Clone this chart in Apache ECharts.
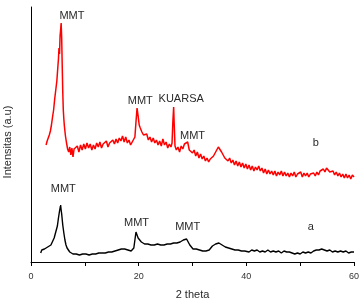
<!DOCTYPE html>
<html>
<head>
<meta charset="utf-8">
<script src="https://cdn.jsdelivr.net/npm/echarts@6/dist/echarts.min.js"></script>
<style>
  html, body { margin: 0; padding: 0; background: #fff; }
  #chart { width: 361px; height: 298px; }
</style>
</head>
<body>
<div id="chart"></div>
<script>
// sample b (red) - 2 theta and relative intensity
const thetaB = [2.8, 3.0, 3.2, 3.4, 3.6, 3.8, 4.0, 4.2, 4.4, 4.6, 4.8, 5.0, 5.1, 5.2, 5.3, 5.4, 5.5, 5.6, 5.7, 5.8, 5.9, 6.0, 6.1, 6.2, 6.4, 6.6, 6.8, 7.0, 7.2, 7.4, 7.6, 7.8, 8.0, 8.3, 8.6, 8.9, 9.2, 9.5, 9.8, 10.1, 10.4, 10.7, 11.0, 11.3, 11.6, 11.9, 12.2, 12.5, 12.8, 13.1, 13.4, 13.7, 14.0, 14.3, 14.6, 14.9, 15.2, 15.5, 15.8, 16.1, 16.4, 16.7, 17.0, 17.3, 17.6, 17.9, 18.2, 18.5, 18.8, 19.1, 19.3, 19.5, 19.7, 19.9, 20.1, 20.3, 20.6, 20.9, 21.2, 21.5, 21.8, 22.1, 22.4, 22.7, 23.0, 23.3, 23.6, 23.9, 24.2, 24.5, 24.8, 25.1, 25.4, 25.7, 26.0, 26.2, 26.35, 26.5, 26.6, 26.75, 27.0, 27.3, 27.6, 27.9, 28.2, 28.5, 28.8, 29.1, 29.4, 29.7, 30.0, 30.3, 30.6, 30.9, 31.2, 31.5, 31.8, 32.1, 32.4, 32.7, 33.0, 33.3, 33.6, 33.9, 34.2, 34.5, 34.8, 35.1, 35.4, 35.7, 36.0, 36.3, 36.6, 36.9, 37.2, 37.5, 37.8, 38.1, 38.4, 38.7, 39.0, 39.3, 39.6, 39.9, 40.2, 40.5, 40.8, 41.1, 41.4, 41.7, 42.0, 42.3, 42.6, 42.9, 43.2, 43.5, 43.8, 44.1, 44.4, 44.7, 45.0, 45.3, 45.6, 45.9, 46.2, 46.5, 46.8, 47.1, 47.4, 47.7, 48.0, 48.3, 48.6, 48.9, 49.2, 49.5, 49.8, 50.1, 50.4, 50.7, 51.0, 51.3, 51.6, 51.9, 52.2, 52.5, 52.8, 53.1, 53.4, 53.7, 54.0, 54.3, 54.6, 54.9, 55.2, 55.5, 55.8, 56.1, 56.4, 56.7, 57.0, 57.3, 57.6, 57.9, 58.2, 58.5, 58.8, 59.1, 59.4, 59.7, 60.0];
const intensB = [117, 121, 119, 127, 131, 137, 145, 152, 163, 172, 181, 196, 203, 214, 208, 226, 232, 239, 224, 196, 170, 152, 143, 136, 126, 119, 113, 110, 115, 107, 114, 105, 113, 111, 116, 110, 117, 112, 118, 113, 119, 114, 118, 112, 117, 113, 119, 115, 120, 114, 118, 116, 121, 115, 119, 117, 122, 118, 123, 119, 124, 121, 126, 120, 125, 119, 122, 117, 120, 118, 125, 140, 154, 146, 137, 134, 130, 127, 125, 128, 122, 125, 120, 124, 119, 122, 117, 121, 116, 123, 117, 120, 114, 118, 115, 119, 140, 155, 138, 116, 112, 115, 110, 116, 113, 118, 117, 120, 112, 114, 109, 112, 106, 110, 104, 108, 103, 106, 101, 104, 100, 103, 102, 106, 108, 112, 115, 113, 110, 107, 104, 106, 101, 104, 99, 102, 97, 101, 96, 100, 95, 99, 94, 98, 93, 97, 92, 96, 91, 95, 92, 96, 91, 94, 89, 93, 88, 92, 88, 91, 87, 91, 86, 90, 87, 91, 86, 90, 86, 89, 85, 89, 86, 90, 85, 88, 86, 90, 85, 89, 86, 89, 85, 88, 86, 89, 86, 90, 87, 91, 89, 93, 90, 94, 92, 90, 88, 91, 87, 90, 86, 89, 85, 88, 84, 88, 84, 87, 83, 87, 85];

// sample a (black)
const thetaA = [1.8, 2.0, 2.2, 2.5, 2.8, 3.1, 3.4, 3.7, 4.0, 4.3, 4.6, 4.9, 5.1, 5.3, 5.5, 5.6, 5.7, 5.9, 6.1, 6.3, 6.5, 6.7, 6.9, 7.2, 7.5, 7.8, 8.1, 8.4, 8.7, 9.0, 9.3, 9.6, 9.9, 10.2, 10.5, 10.8, 11.1, 11.4, 11.7, 12.0, 12.3, 12.6, 12.9, 13.2, 13.5, 13.8, 14.1, 14.4, 14.7, 15.0, 15.3, 15.6, 15.9, 16.2, 16.5, 16.8, 17.1, 17.4, 17.7, 18.0, 18.3, 18.6, 18.9, 19.1, 19.3, 19.5, 19.7, 19.9, 20.2, 20.5, 20.8, 21.1, 21.4, 21.7, 22.0, 22.3, 22.6, 22.9, 23.2, 23.5, 23.8, 24.1, 24.4, 24.7, 25.0, 25.3, 25.6, 25.9, 26.2, 26.5, 26.8, 27.1, 27.4, 27.7, 28.0, 28.3, 28.6, 28.9, 29.2, 29.5, 29.8, 30.1, 30.4, 30.7, 31.0, 31.3, 31.6, 31.9, 32.2, 32.5, 32.8, 33.1, 33.4, 33.7, 34.0, 34.3, 34.6, 34.9, 35.2, 35.5, 35.8, 36.1, 36.4, 36.7, 37.0, 37.3, 37.6, 37.9, 38.2, 38.5, 38.8, 39.1, 39.4, 39.7, 40.0, 40.5, 41.0, 41.5, 42.0, 42.5, 43.0, 43.5, 44.0, 44.5, 45.0, 45.5, 46.0, 46.5, 47.0, 47.5, 48.0, 48.5, 49.0, 49.5, 50.0, 50.5, 51.0, 51.5, 52.0, 52.5, 53.0, 53.5, 54.0, 54.5, 55.0, 55.5, 56.0, 56.5, 57.0, 57.5, 58.0, 58.5, 59.0, 59.5, 60.0];
const intensA = [9, 12, 10, 13, 12, 15, 14, 17, 19, 24, 30, 36, 44, 51, 57, 52, 48, 37, 29, 22, 17, 14, 12, 10, 11, 8, 10, 8, 9, 7, 9, 8, 10, 8, 9, 7, 9, 8, 10, 8, 10, 9, 11, 9, 10, 9, 11, 10, 12, 10, 12, 11, 13, 12, 14, 13, 12, 13, 11, 12, 10, 11, 11, 14, 22, 30, 27, 24, 22, 20, 19, 18, 17, 18, 16, 17, 15, 17, 16, 18, 16, 17, 15, 17, 16, 18, 17, 18, 17, 19, 18, 19, 18, 20, 20, 22, 24, 23, 20, 17, 15, 13, 12, 13, 11, 12, 10, 11, 10, 11, 10, 12, 14, 16, 17, 18, 20, 19, 18, 17, 16, 15, 16, 14, 14, 13, 14, 12, 13, 12, 13, 11, 12, 11, 12, 10, 12, 11, 12, 10, 11, 10, 12, 10, 11, 10, 11, 9, 11, 10, 10, 9, 8, 9, 8, 10, 9, 10, 9, 11, 12, 12, 13, 12, 11, 12, 10, 11, 10, 11, 10, 11, 9, 10, 10];

// peak annotations [2 theta, intensity, text]
const notesB = [[7.6, 246, 'MMT'], [20.3, 161, 'MMT'], [27.9, 163, 'KUARSA'], [30.0, 126, 'MMT'], [52.9, 119, 'b']];
const notesA = [[6.0, 73, 'MMT'], [19.6, 39, 'MMT'], [29.1, 35, 'MMT'], [52.0, 35, 'a']];

const xTicks = [0, 20, 40, 60];

const toPairs = (xs, ys) => xs.map((x, i) => [x, ys[i]]);
const toNotes = (list) => list.map(n => ({
  coord: [n[0], n[1]],
  value: n[2]
}));

const textColor = '#2a2a2a';

const chart = echarts.init(document.getElementById('chart'), null, { renderer: 'canvas' });

chart.setOption({
  animation: false,
  grid: { left: 31, right: 7, top: 7, bottom: 36, containLabel: false, outerBoundsMode: 'none' },
  // y title drawn as rotated text so it can sit a bit below the axis middle
  graphic: [{
    type: 'text',
    x: 8,
    y: 142,
    rotation: Math.PI / 2,
    style: {
      text: 'Intensitas (a.u)',
      fill: textColor,
      fontSize: 11,
      fontFamily: 'Liberation Sans',
      align: 'center',
      verticalAlign: 'middle'
    }
  }],
  xAxis: {
    type: 'value',
    min: 0,
    max: 60,
    interval: 10,
    name: '2 theta',
    nameLocation: 'middle',
    nameGap: 27,
    nameTextStyle: { color: textColor, fontSize: 11, fontFamily: 'Liberation Sans' },
    axisLine: { lineStyle: { color: '#000', width: 1 } },
    axisTick: { show: true, length: 4, lineStyle: { color: '#000' } },
    axisLabel: {
      color: '#333',
      fontSize: 9,
      margin: 10,
      fontFamily: 'Liberation Sans',
      formatter: (v) => xTicks.includes(v) ? String(v) : ''
    },
    splitLine: { show: false }
  },
  yAxis: {
    type: 'value',
    min: 0,
    max: 255,
    axisLine: { show: true, lineStyle: { color: '#000', width: 1 } },
    axisTick: { show: false },
    axisLabel: { show: false },
    splitLine: { show: false }
  },
  series: [
    {
      name: 'b',
      type: 'line',
      data: toPairs(thetaB, intensB),
      showSymbol: false,
      lineStyle: { color: '#ff0000', width: 1.5 },
      markPoint: {
        symbol: 'circle',
        symbolSize: 0,
        label: { show: true, color: textColor, fontSize: 11, fontFamily: 'Liberation Sans', formatter: (p) => p.value },
        data: toNotes(notesB)
      }
    },
    {
      name: 'a',
      type: 'line',
      data: toPairs(thetaA, intensA),
      showSymbol: false,
      lineStyle: { color: '#000', width: 1.4 },
      markPoint: {
        symbol: 'circle',
        symbolSize: 0,
        label: { show: true, color: textColor, fontSize: 11, fontFamily: 'Liberation Sans', formatter: (p) => p.value },
        data: toNotes(notesA)
      }
    }
  ]
});
</script>
</body>
</html>
